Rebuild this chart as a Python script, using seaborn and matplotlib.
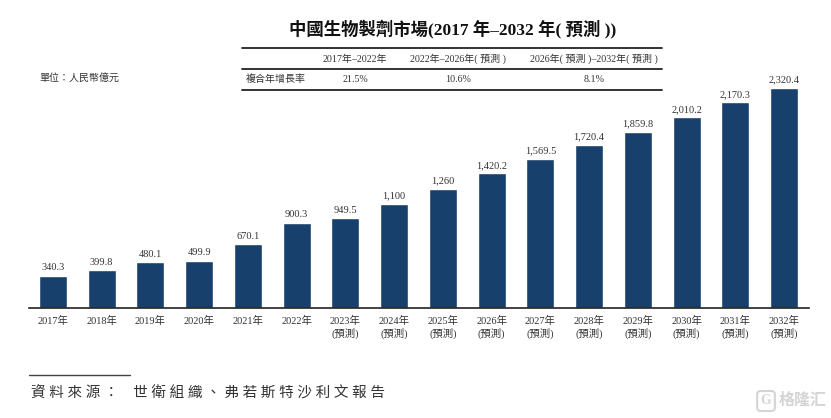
import matplotlib
matplotlib.use('Agg')
import matplotlib.pyplot as plt
from matplotlib.lines import Line2D
import pandas as pd
import seaborn as sns

years = ['2017年', '2018年', '2019年', '2020年', '2021年', '2022年', '2023年\n(預測)', '2024年\n(預測)',
         '2025年\n(預測)', '2026年\n(預測)', '2027年\n(預測)', '2028年\n(預測)', '2029年\n(預測)',
         '2030年\n(預測)', '2031年\n(預測)', '2032年\n(預測)']
values = [340.3, 399.8, 480.1, 499.9, 670.1, 900.3, 949.5, 1100, 1260, 1420.2, 1569.5, 1720.4, 1859.8,
          2010.2, 2170.3, 2320.4]
value_labels = ['340.3', '399.8', '480.1', '499.9', '670.1', '900.3', '949.5', '1,100', '1,260', '1,420.2',
                '1,569.5', '1,720.4', '1,859.8', '2,010.2', '2,170.3', '2,320.4']
periods = ['2017年–2022年', '2022年–2026年( 預測 )', '2026年( 預測 )–2032年( 預測 )']
cagr = ['21.5%', '10.6%', '8.1%']

W, H = 831, 418
FONT = ['Liberation Serif', 'Noto Sans CJK TC']
BAR = '#17406d'
TXT = '#333333'

sns.set_theme(style='white')
plt.rcParams['font.family'] = FONT

df = pd.DataFrame({'year': years, 'value': values})

fig = plt.figure(figsize=(W / 100, H / 100), dpi=100)
ax = fig.add_axes([29 / W, 1 - 308 / H, 780 / W, 228 / H])
sns.barplot(data=df, x='year', y='value', color=BAR, saturation=1, width=0.57, ax=ax)
ax.set_xlim(-0.49, 15.51)
ax.set_ylim(0, 228 / 0.0948)
ax.bar_label(ax.containers[0], labels=value_labels, fontsize=7.5, color=TXT, padding=2.5)
ax.set_xlabel('')
ax.set_ylabel('')
ax.set_yticks([])
ax.tick_params(axis='x', length=0, pad=6, labelsize=7.5, labelcolor=TXT)
for lab in ax.get_xticklabels():
    lab.set_linespacing(1.2)
sns.despine(ax=ax, left=True)
ax.spines['bottom'].set_color('#222222')
ax.spines['bottom'].set_linewidth(1.2)


def put(x, y, s, **kw):
    kw.setdefault('ha', 'center')
    kw.setdefault('va', 'center')
    kw.setdefault('color', TXT)
    fig.text(x / W, 1 - y / H, s, **kw)


def rule(x0, x1, y, lw=1.3, color='#222222'):
    fig.add_artist(Line2D([x0 / W, x1 / W], [1 - y / H, 1 - y / H], lw=lw, color=color))


put(453, 30, '中國生物製劑市場(2017 年–2032 年( 預測 ))', fontsize=12.5, fontweight='bold', color='#111111')

rule(242, 662, 48)
rule(242, 662, 69)
rule(242, 662, 90)
for x, p, c in zip([355, 458, 594], periods, cagr):
    put(x, 59, p, fontsize=7.2)
    put(x, 79, c, fontsize=7.2)
put(276, 79, '複合年增長率', fontsize=7.2)
put(119, 78, '單位：人民幣億元', fontsize=7.2, ha='right')

rule(29, 130, 375, lw=1.0, color='#444444')
put(31, 393, ' '.join('資料來源：') + '    ' + ' '.join('世衛組織、弗若斯特沙利文報告'), fontsize=10.5, ha='left',
    color='#333333', style='italic')

# 水印
put(803, 401, '格隆汇', fontsize=11.5, color='#d4d4d4', fontweight='bold')
put(766, 401, 'G', fontsize=10, color='#d4d4d4', fontweight='bold',
    bbox=dict(boxstyle='round,pad=0.25', fc='white', ec='#d4d4d4', lw=1.5))

fig.savefig('out.png', dpi=100)
